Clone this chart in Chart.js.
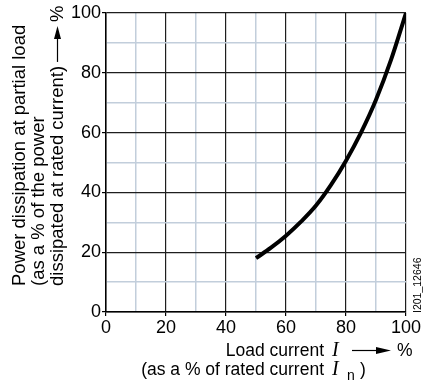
<!DOCTYPE html>
<html>
<head>
<meta charset="utf-8">
<script src="https://cdn.jsdelivr.net/npm/chart.js@4.4.0/dist/chart.umd.min.js"></script>
<style>
  html, body { margin: 0; padding: 0; background: #fff; }
  #wrap { width: 424px; height: 382px; }
</style>
</head>
<body>
<div id="wrap"><canvas id="myChart" width="424" height="382"></canvas></div>
<script>
// load current in % of rated current
const loadCurrent = [50, 55, 60, 65, 70, 75, 80, 85, 90, 95, 100];
// power dissipation in % of the value at rated current
const powerLoss = [18, 21.5, 25.5, 30.2, 35.6, 42.5, 50.6, 60, 71, 84.3, 100];
const axisTicks = [0, 20, 40, 60, 80, 100];

const FONT = '"Liberation Sans", Arial, sans-serif';
const SERIF = '"Liberation Serif", "Times New Roman", serif';

const isMajor = v => axisTicks.includes(v);

// axis titles with arrows are drawn by hand so they can be placed like the original
const titlesPlugin = {
    id: 'titles',
    afterDraw(chart) {
        const ctx = chart.ctx;
        ctx.save();
        ctx.fillStyle = '#000';
        ctx.strokeStyle = '#000';
        ctx.textBaseline = 'alphabetic';

        // x title, line 1
        ctx.font = '17.5px ' + FONT;
        ctx.textAlign = 'right';
        ctx.fillText('Load current', 324, 356);
        ctx.textAlign = 'left';
        ctx.font = 'italic 20px ' + SERIF;
        ctx.fillText('I', 332, 356);
        ctx.lineWidth = 1.2;
        ctx.beginPath();
        ctx.moveTo(352, 350.5);
        ctx.lineTo(380, 350.5);
        ctx.stroke();
        ctx.beginPath();
        ctx.moveTo(391, 350.5);
        ctx.lineTo(376, 347);
        ctx.lineTo(376, 354);
        ctx.closePath();
        ctx.fill();
        ctx.font = '17.5px ' + FONT;
        ctx.fillText('%', 397, 356);

        // x title, line 2
        ctx.textAlign = 'right';
        ctx.fillText('(as a % of rated current', 324, 375);
        ctx.textAlign = 'left';
        ctx.font = 'italic 20px ' + SERIF;
        ctx.fillText('I', 332, 375);
        ctx.font = '14px ' + FONT;
        ctx.fillText('n', 347, 380);
        ctx.font = '17.5px ' + FONT;
        ctx.fillText(')', 360, 375);

        // y title, rotated
        ctx.save();
        ctx.translate(0, 286);
        ctx.rotate(-Math.PI / 2);
        ctx.font = '18.5px ' + FONT;
        ctx.fillText('Power dissipation at partial load', 0, 25);
        ctx.fillText('(as a % of the power', 0, 44);
        ctx.fillText('dissipated at rated current)', 0, 63);
        const w = ctx.measureText('dissipated at rated current)').width;
        ctx.lineWidth = 1.2;
        ctx.beginPath();
        ctx.moveTo(w + 4, 57.5);
        ctx.lineTo(w + 30, 57.5);
        ctx.stroke();
        ctx.beginPath();
        ctx.moveTo(w + 40, 57.5);
        ctx.lineTo(w + 27, 54);
        ctx.lineTo(w + 27, 61);
        ctx.closePath();
        ctx.fill();
        ctx.fillText('%', w + 44, 63);
        ctx.restore();

        // drawing number at the right
        ctx.save();
        ctx.translate(421, 313);
        ctx.rotate(-Math.PI / 2);
        ctx.font = '10.5px ' + FONT;
        ctx.fillText('I201_12646', 0, 0);
        ctx.restore();

        ctx.restore();
    }
};

const gridOpts = {
    color: c => isMajor(c.tick.value) ? '#1e1e1e' : '#c2cedb',
    lineWidth: c => isMajor(c.tick.value) ? 1.2 : 1.5,
    tickColor: c => isMajor(c.tick.value) ? '#000' : 'rgba(0,0,0,0)',
    tickLength: 4
};

new Chart(document.getElementById('myChart').getContext('2d'), {
    type: 'line',
    data: {
        datasets: [
            {
                data: loadCurrent.map((x, i) => ({ x: x, y: powerLoss[i] })),
                borderColor: '#000',
                borderWidth: 4,
                pointRadius: 0,
                cubicInterpolationMode: 'monotone',
                fill: false
            }
        ]
    },
    options: {
        responsive: false,
        animation: false,
        layout: { padding: { left: 66, right: 18, top: 13, bottom: 40 } },
        plugins: { legend: { display: false }, tooltip: { enabled: false } },
        scales: {
            x: {
                type: 'linear',
                min: 0,
                max: 100,
                afterFit: s => { s.height = 30; },
                border: { color: '#000', width: 1.5 },
                grid: gridOpts,
                ticks: {
                    stepSize: 10,
                    autoSkip: false,
                    maxRotation: 0,
                    padding: 1,
                    color: '#000',
                    font: { family: FONT, size: 18 },
                    callback: v => isMajor(v) ? v : ''
                }
            },
            y: {
                min: 0,
                max: 100,
                afterFit: s => { s.width = 40; },
                border: { color: '#000', width: 1.5 },
                grid: gridOpts,
                ticks: {
                    stepSize: 10,
                    autoSkip: false,
                    padding: 1,
                    color: '#000',
                    font: { family: FONT, size: 18 },
                    callback: v => isMajor(v) ? v : ''
                }
            }
        }
    },
    plugins: [titlesPlugin]
});
</script>
</body>
</html>
